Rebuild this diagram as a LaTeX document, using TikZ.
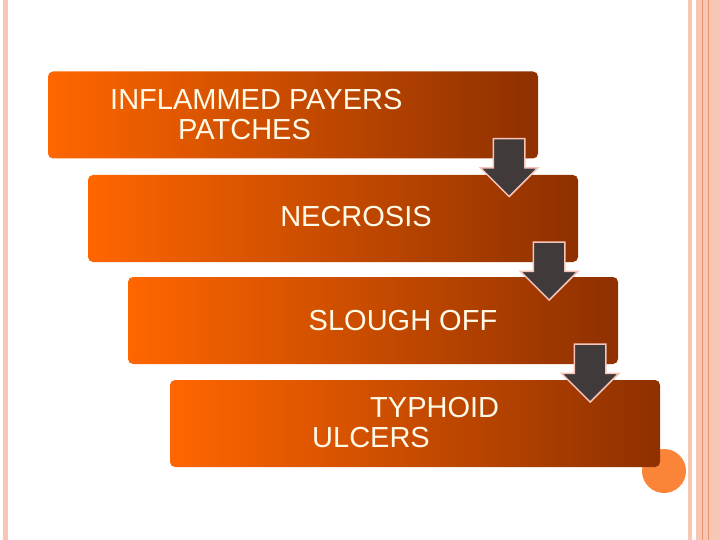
\documentclass[tikz,border=0pt]{standalone}
\usepackage{fontspec}
\setmainfont{Liberation Sans}
\usepackage{xcolor}
\usepackage{tikz}
\usetikzlibrary{shapes.arrows,positioning,calc}
\definecolor{peach}{RGB}{247,199,181}
\definecolor{peachline}{RGB}{236,150,112}
\definecolor{orA}{RGB}{255,102,0}
\definecolor{orB}{RGB}{142,48,0}
\definecolor{dot}{RGB}{250,133,56}
\definecolor{grA}{RGB}{64,58,58}
\definecolor{grB}{RGB}{86,92,98}
\definecolor{rim}{RGB}{246,196,184}
\definecolor{cream}{RGB}{255,250,232}
\begin{document}
\begin{tikzpicture}[x=1pt, y=-1pt, font=\fontsize{29}{30}\selectfont,
  box/.style={rounded corners=5pt, minimum width=490pt, minimum height=87pt, inner sep=0pt, left color=orA, right color=orB},
  lbl/.style={text=cream, align=left, inner sep=0pt},
  arr/.style={single arrow, draw=rim, line width=1.5pt, rotate=-90, minimum height=58pt,
    single arrow head extend=13pt, inner xsep=0pt, inner ysep=15pt, top color=grA, middle color=grB, bottom color=grA}]
  \useasboundingbox (0,0) rectangle (720,540);
  \fill[peach] (3,0) rectangle (8,540);
  \fill[peach] (688,0) rectangle (692,540);
  \fill[peach] (696,0) rectangle (720,540);
  \draw[peachline, line width=0.8pt] (702.5,0) -- (702.5,540) (708.5,0) -- (708.5,540);
  \fill[dot] (664,471) circle[radius=22];
  \node[box] (a) at (293,115) {};
  \node[box] (b) at (333,218.5) {};
  \node[box] (c) at (373,320.5) {};
  \node[box] (d) at (415,423.5) {};
  \node[lbl, anchor=west] (ta) at (110,114.5) {INFLAMMED PAYERS\\\hspace*{68pt}PATCHES};
  \node[lbl] (tb) at (356,217) {NECROSIS};
  \node[lbl] (tc) at (403,321) {SLOUGH OFF};
  \node[lbl, anchor=west] (td) at (312,422.5) {\hspace*{58pt}TYPHOID\\ULCERS};
  \node[arr] (ab) at ([xshift=-29pt,yshift=-1pt]a.south east) {};
  \node[arr] (bc) at ([xshift=-29pt,yshift=-1pt]b.south east) {};
  \node[arr] (cd) at ([xshift=-28pt,yshift=-1pt]c.south east) {};
\end{tikzpicture}
\end{document}
